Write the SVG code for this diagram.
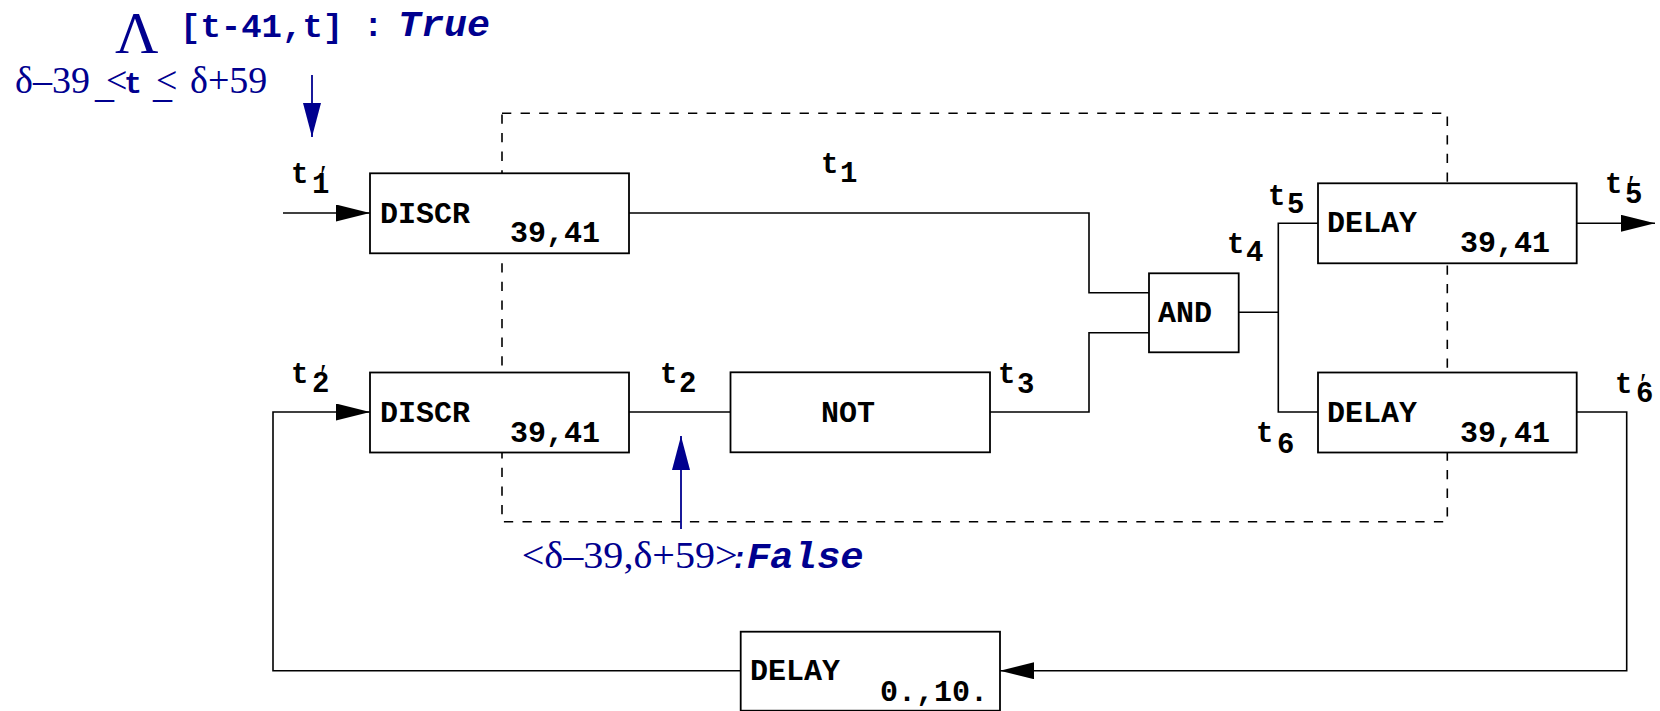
<svg xmlns="http://www.w3.org/2000/svg" width="1660" height="711" viewBox="0 0 1660 711">
<style>
.box{fill:#fff;stroke:#000;stroke-width:1.8}
.wire{fill:none;stroke:#000;stroke-width:1.6}
.dash{fill:none;stroke:#000;stroke-width:1.6;stroke-dasharray:9.3 9.3}
.bt{font-family:"Liberation Mono","Courier New",monospace;font-weight:bold;font-size:30px;fill:#000}
.lb{font-family:"Liberation Mono","Courier New",monospace;font-weight:bold;font-size:29px;fill:#000}
.pr{font-family:"Liberation Serif","Times New Roman",serif;font-size:30px;fill:#000}
.bl{fill:#00008f}
.ser{font-family:"Liberation Serif","Times New Roman",serif}
.mono{font-family:"Liberation Mono","Courier New",monospace;font-weight:bold}
.bi{font-family:"Liberation Mono","Courier New",monospace;font-weight:bold;font-style:italic}
</style>
<defs>
<marker id="ah" markerUnits="userSpaceOnUse" markerWidth="36" markerHeight="18" refX="34" refY="8.5" orient="auto"><path d="M0,0 L34,8.5 L0,17 z" fill="#000"/></marker>
<marker id="bh" markerUnits="userSpaceOnUse" markerWidth="36" markerHeight="20" refX="34" refY="9" orient="auto"><path d="M0,0 L34,9 L0,18 z" fill="#00008f"/></marker>
</defs>
<rect id="boundary" class="dash" x="502" y="113.3" width="945.3" height="408.4"/>
<g id="connectors">
<path class="wire" d="M283,213 H370" marker-end="url(#ah)"/>
<path class="wire" d="M629,213 H1089 V292.7 H1149"/>
<path class="wire" d="M629,412 H730.5"/>
<path class="wire" d="M990,412 H1089 V332.7 H1149"/>
<path class="wire" d="M1239,312.3 H1278.3"/>
<path class="wire" d="M1318,223.3 H1278.3 V412 H1318"/>
<path class="wire" d="M1576.7,223.3 H1655" marker-end="url(#ah)"/>
<path class="wire" d="M1576.7,412 H1626.7 V670.7 H1000" marker-end="url(#ah)"/>
<path class="wire" d="M740.7,670.7 H273 V412 H370" marker-end="url(#ah)"/>
<path d="M312,75 V137" stroke="#00008f" stroke-width="1.8" fill="none" marker-end="url(#bh)"/>
<path d="M681,529 V436" stroke="#00008f" stroke-width="1.8" fill="none" marker-end="url(#bh)"/>
<text class="lb"><tspan x="291" y="183.3">t</tspan><tspan x="312" y="192.7">1</tspan></text>
<text class="pr" x="320" y="185">′</text>
<text class="lb"><tspan x="291" y="382.5">t</tspan><tspan x="312" y="392">2</tspan></text>
<text class="pr" x="320" y="384">′</text>
<text class="lb"><tspan x="821" y="172.6">t</tspan><tspan x="840" y="182">1</tspan></text>
<text class="lb"><tspan x="660" y="383.3">t</tspan><tspan x="679" y="392.3">2</tspan></text>
<text class="lb"><tspan x="998" y="383.3">t</tspan><tspan x="1017" y="393">3</tspan></text>
<text class="lb"><tspan x="1227" y="252.5">t</tspan><tspan x="1246" y="261">4</tspan></text>
<text class="lb"><tspan x="1268" y="205">t</tspan><tspan x="1287" y="213.3">5</tspan></text>
<text class="lb"><tspan x="1605" y="193.3">t</tspan><tspan x="1625" y="203.3">5</tspan></text>
<text class="pr" x="1628" y="195">′</text>
<text class="lb"><tspan x="1256" y="441.7">t</tspan><tspan x="1277" y="452.7">6</tspan></text>
<text class="lb"><tspan x="1615" y="393.3">t</tspan><tspan x="1636" y="402.3">6</tspan></text>
<text class="pr" x="1640" y="393">′</text>
</g>
<g id="discr1"><rect class="box" x="370" y="173.3" width="259" height="80"/><text class="bt" x="380" y="223">DISCR</text><text class="bt" x="510" y="242.3">39,41</text></g>
<g id="discr2"><rect class="box" x="370" y="372.5" width="259" height="80"/><text class="bt" x="380" y="422">DISCR</text><text class="bt" x="510" y="441.5">39,41</text></g>
<g id="not"><rect class="box" x="730.5" y="372.3" width="259.5" height="80"/><text class="bt" x="821" y="422">NOT</text></g>
<g id="and"><rect class="box" x="1149" y="273.3" width="89.7" height="79"/><text class="bt" x="1158" y="321.7">AND</text></g>
<g id="delay1"><rect class="box" x="1318" y="183.3" width="258.7" height="80"/><text class="bt" x="1327" y="231.7">DELAY</text><text class="bt" x="1460" y="251.7">39,41</text></g>
<g id="delay2"><rect class="box" x="1318" y="372.5" width="258.7" height="80"/><text class="bt" x="1327" y="421.7">DELAY</text><text class="bt" x="1460" y="442">39,41</text></g>
<g id="delay3"><rect class="box" x="740.7" y="631.7" width="259.3" height="79"/><text class="bt" x="750" y="680">DELAY</text><text class="bt" x="880" y="700.7">0.,10.</text></g>
<g id="annot-top" class="bl">
<text class="ser" x="115" y="53" font-size="60">Λ</text>
<text class="mono" x="180" y="37" font-size="34">[t-41,t]</text>
<text class="mono" x="363" y="36" font-size="34">:</text>
<text class="bi" x="398" y="36" font-size="36" textLength="92" lengthAdjust="spacingAndGlyphs">True</text>
<text class="ser" x="15" y="93.3" font-size="38">δ–39</text>
<text class="ser" x="95" y="97" font-size="38">_</text>
<text class="ser" x="106" y="93.3" font-size="38">&lt;</text>
<text class="mono" x="124" y="93.3" font-size="30">t</text>
<text class="ser" x="153" y="97" font-size="38">_</text>
<text class="ser" x="156" y="93.3" font-size="38">&lt;</text>
<text class="ser" x="190" y="93.3" font-size="38">δ+59</text>
</g>
<g id="annot-bottom" class="bl">
<text class="ser" x="521.7" y="568.3" font-size="37" textLength="216" lengthAdjust="spacingAndGlyphs">&lt;δ–39,δ+59&gt;</text>
<text class="bi" x="730" y="567.5" font-size="30">:</text>
<text class="bi" x="746.7" y="567.5" font-size="37" textLength="117" lengthAdjust="spacingAndGlyphs">False</text>
</g>
</svg>
